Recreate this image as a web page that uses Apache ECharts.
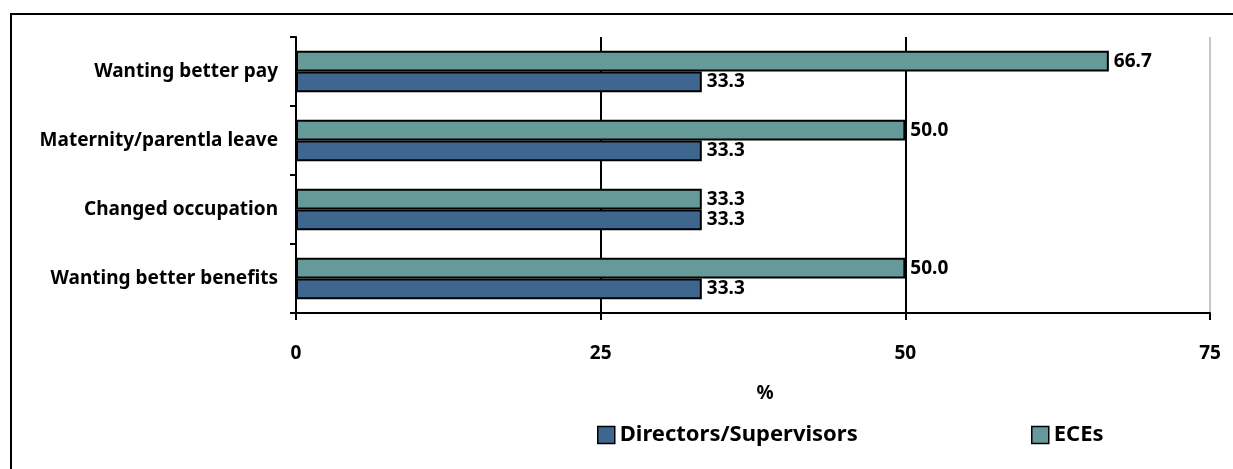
<!DOCTYPE html>
<html>
<head>
<meta charset="utf-8">
<script src="https://cdn.jsdelivr.net/npm/echarts@6/dist/echarts.min.js"></script>
<style>
html,body{margin:0;padding:0;background:#fff;}
#chart{width:1233px;height:469px;}
</style>
</head>
<body>
<div id="chart"></div>
<script>
const categories = ['Wanting better benefits', 'Changed occupation', 'Maternity/parentla leave', 'Wanting better pay'];
const directorsValues = [33.3, 33.3, 33.3, 33.3];
const eceValues = [50.0, 33.3, 50.0, 66.7];
const seriesNames = ['Directors/Supervisors', 'ECEs'];
const xTicks = [0, 25, 50, 75];
const axisTitle = '%';

const FONT = 'Noto Sans';
const FS = 19;
const chart = echarts.init(document.getElementById('chart'));
const labelStyle = {
  show: true, position: 'right', distance: 5,
  fontFamily: FONT, fontWeight: 'bold', fontSize: FS, color: '#000',
  formatter: p => p.value.toFixed(1)
};
const legendText = {fontFamily: FONT, fontWeight: 'bold', fontSize: 22, color: '#000'};
chart.setOption({
  animation: false,
  backgroundColor: '#fff',
  graphic: [{
    type: 'rect', shape: {x: 11, y: 14, width: 1300, height: 600},
    style: {fill: 'none', stroke: '#000', lineWidth: 2}, z: -1
  }],
  grid: {left: 296, right: 23, top: 37, bottom: 156, containLabel: false},
  legend: [{
    data: [{name: seriesNames[0], icon: 'rect'}], left: 592, top: 419, itemWidth: 17, itemHeight: 17, itemGap: 8,
    textStyle: legendText,
    itemStyle: {borderColor: '#000', borderWidth: 1.5}
  }, {
    data: [{name: seriesNames[1], icon: 'rect'}], left: 1026, top: 419, itemWidth: 17, itemHeight: 17, itemGap: 8,
    textStyle: legendText,
    itemStyle: {borderColor: '#000', borderWidth: 1.5}
  }],
  xAxis: {
    type: 'value', min: xTicks[0], max: xTicks[xTicks.length - 1], interval: 25,
    name: axisTitle, nameLocation: 'middle', nameGap: 71,
    nameTextStyle: {fontFamily: FONT, fontWeight: 'bold', fontSize: FS, color: '#000', padding: [0, 0, 0, 24]},
    axisLine: {show: true, lineStyle: {color: '#000', width: 2}},
    axisTick: {show: true, length: 7, lineStyle: {color: '#000', width: 2}},
    axisLabel: {margin: 31, fontFamily: FONT, fontWeight: 'bold', fontSize: FS, color: '#000'},
    splitLine: {show: true, lineStyle: {color: ['#000', '#000', '#000', '#c8c8c8'], width: 2}}
  },
  yAxis: {
    type: 'category', data: categories,
    axisLine: {show: true, lineStyle: {color: '#000', width: 2}},
    axisTick: {show: true, length: 6, lineStyle: {color: '#000', width: 2}},
    axisLabel: {margin: 18, fontFamily: FONT, fontWeight: 'bold', fontSize: FS, color: '#000'}
  },
  series: [{
    name: seriesNames[1], type: 'bar', data: eceValues,
    barWidth: '30%', barGap: '0%',
    itemStyle: {color: '#659a98', borderColor: '#000', borderWidth: 2},
    label: labelStyle
  }, {
    name: seriesNames[0], type: 'bar', data: directorsValues,
    barWidth: '30%', barGap: '0%',
    itemStyle: {color: '#3e668f', borderColor: '#000', borderWidth: 2},
    label: labelStyle
  }]
});
</script>
</body>
</html>
